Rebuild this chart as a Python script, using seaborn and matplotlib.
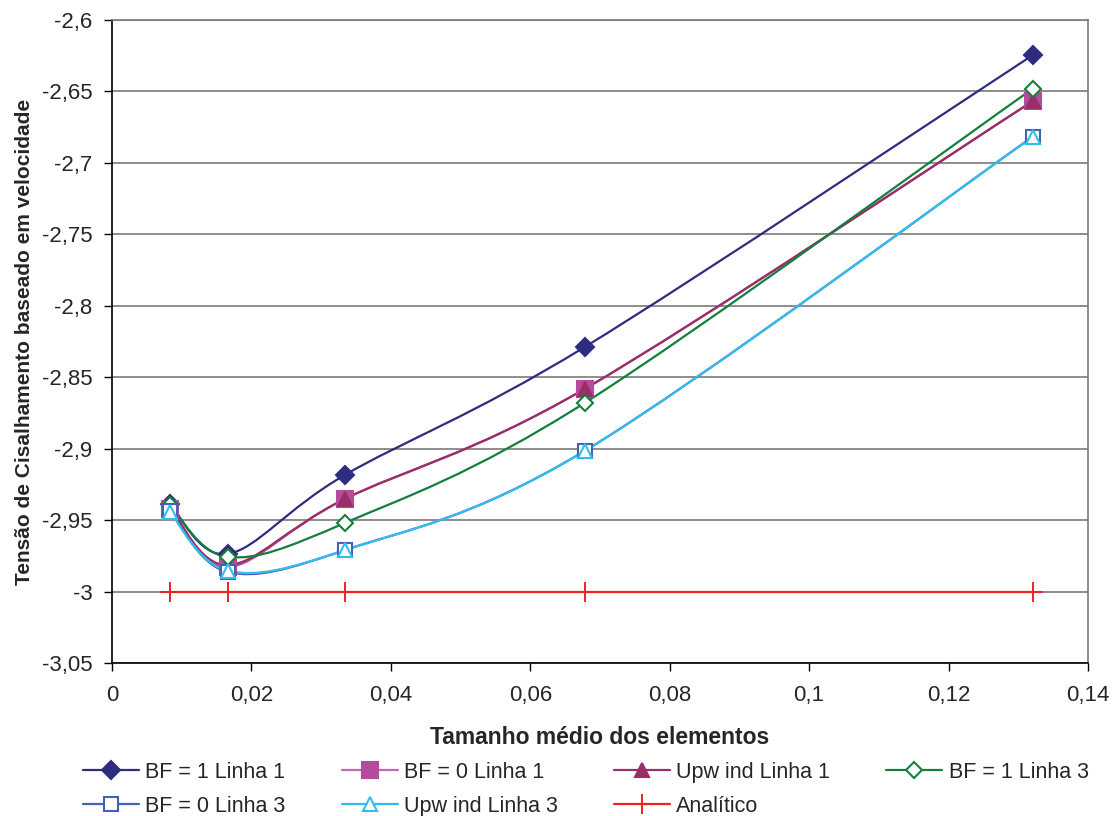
import matplotlib
matplotlib.use("Agg")
import matplotlib.pyplot as plt
import seaborn as sns
import numpy as np
from matplotlib.path import Path
from matplotlib.patches import PathPatch
from matplotlib.lines import Line2D
from matplotlib.ticker import FuncFormatter

# tamanho médio dos elementos
x_vals = [0.0083, 0.0166, 0.0334, 0.0678, 0.1321]

bf1_l1 = [-2.9387, -2.9737, -2.9184, -2.8289, -2.6245]
bf0_l1 = [-2.9420, -2.9828, -2.9352, -2.8582, -2.6567]
upw_l1 = [-2.9405, -2.9815, -2.9352, -2.8582, -2.6567]
bf1_l3 = [-2.9395, -2.9758, -2.9520, -2.8680, -2.6480]
bf0_l3 = [-2.9436, -2.9863, -2.9710, -2.9016, -2.6816]
upw_l3 = [-2.9445, -2.9855, -2.9710, -2.9016, -2.6816]
analitico = [-3.0, -3.0, -3.0, -3.0, -3.0]

labels = ["BF = 1 Linha 1", "BF = 0 Linha 1", "Upw ind Linha 1", "BF = 1 Linha 3",
          "BF = 0 Linha 3", "Upw ind Linha 3", "Analítico"]

sns.set_style("white")
plt.rcParams["font.family"] = ["Liberation Sans", "DejaVu Sans"]


def smooth_path(xs, ys):
    # Excel-style smoothed line (Catmull-Rom as cubic Bezier)
    pts = np.column_stack([xs, ys])
    n = len(pts)
    verts = [pts[0]]
    codes = [Path.MOVETO]
    for i in range(n - 1):
        p0 = pts[i - 1] if i > 0 else pts[i]
        p1 = pts[i]
        p2 = pts[i + 1]
        p3 = pts[i + 2] if i + 2 < n else pts[i + 1]
        c1 = p1 + (p2 - p0) / 6.0
        c2 = p2 - (p3 - p1) / 6.0
        verts += [c1, c2, p2]
        codes += [Path.CURVE4] * 3
    return Path(verts, codes)


series = [
    (bf1_l1, "#2E2C7E", "#2E2C7E", "D", 9, "#2E2C7E", "#2E2C7E"),
    (bf0_l1, "#B44C9E", "#B44C9E", "s", 11, "#C466B8", "#B44C9E"),
    (upw_l1, "#9A2E68", "#9A2E68", "^", 10, "#9A2E68", "#9A2E68"),
    (bf1_l3, "#12803C", "white", "D", 8, "#12803C", "#12803C"),
    (bf0_l3, "#4462B4", "white", "s", 10, "#4462B4", "#4462B4"),
    (upw_l3, "#33BDEE", "white", "^", 10, "#33BDEE", "#33BDEE"),
]

fig = plt.figure(figsize=(11.2, 8.16), dpi=100)
ax = fig.add_axes([0.1, 0.1875, 0.8714, 0.788])

handles = []
for ys, lc, fc, mk, ms, leg_lc, ec in series:
    ax.add_patch(PathPatch(smooth_path(x_vals, ys), facecolor="none",
                           edgecolor=lc, lw=1.6, zorder=3))
    ax.plot(x_vals, ys, linestyle="none", marker=mk, markersize=ms,
            markerfacecolor=fc, markeredgecolor=ec, markeredgewidth=1.5, zorder=4)
    handles.append(Line2D([], [], color=leg_lc, lw=1.6, marker=mk, markersize=ms,
                          markerfacecolor=fc, markeredgecolor=ec, markeredgewidth=1.5))

sns.lineplot(x=x_vals, y=analitico, ax=ax, color="#EE2222", lw=1.6, marker="+",
             markersize=14, markeredgewidth=1.4, markeredgecolor="#EE2222", zorder=3)
handles.append(Line2D([], [], color="#EE2222", lw=1.6, marker="+", markersize=14,
                      markeredgewidth=1.4))

ax.set_xlim(0, 0.14)
ax.set_ylim(-3.05, -2.6)
ax.set_xticks(np.arange(0, 0.1401, 0.02))
ax.set_yticks(np.arange(-3.05, -2.5999, 0.05))
comma = FuncFormatter(lambda v, p: ("%g" % round(v, 4)).replace(".", ","))
ax.xaxis.set_major_formatter(comma)
ax.yaxis.set_major_formatter(comma)
ax.tick_params(axis="both", labelsize=16, length=6, width=1, direction="out",
               color="black", left=True, bottom=True)
ax.tick_params(axis="y", pad=8)
ax.tick_params(axis="x", pad=10)
ax.yaxis.grid(True, color="#7A7A7A", lw=1.2)
ax.set_axisbelow(True)
for side in ["left", "bottom"]:
    ax.spines[side].set_color("black")
    ax.spines[side].set_linewidth(1.2)
for side in ["top", "right"]:
    ax.spines[side].set_color("#7A7A7A")
    ax.spines[side].set_linewidth(1.2)

ax.set_xlabel("Tamanho médio dos elementos", fontsize=16.5, fontweight="bold", labelpad=14)
ax.set_ylabel("Tensão de Cisalhamento baseado em velocidade", fontsize=15,
              fontweight="bold", labelpad=6)

order = [0, 4, 1, 5, 2, 6, 3]
fig.legend([handles[i] for i in order], [labels[i] for i in order], ncol=4,
           loc="upper center", bbox_to_anchor=(0.523, 0.09), frameon=False,
           fontsize=15.5, handlelength=2.6, columnspacing=2.6, labelspacing=0.6,
           handletextpad=0.3)

plt.savefig("out.png", dpi=100)
plt.close()
